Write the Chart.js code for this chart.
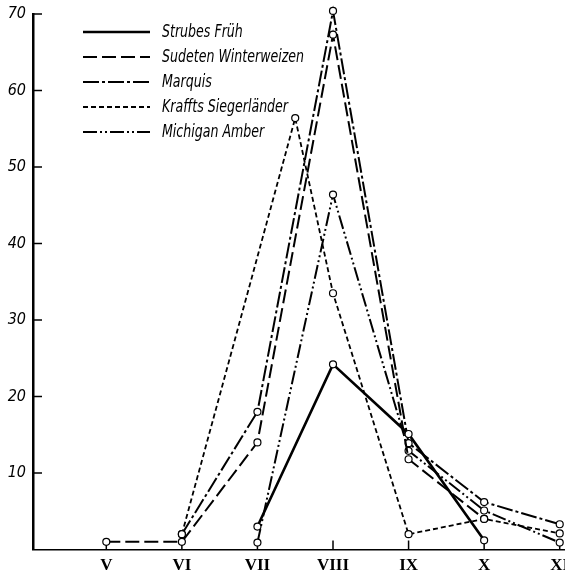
<!DOCTYPE html>
<html><head><meta charset="utf-8">
<script src="https://cdn.jsdelivr.net/npm/chart.js@4/dist/chart.umd.min.js"></script>
<style>html,body{margin:0;padding:0;background:#fff;} #wrap{width:565px;height:572px;position:relative;}</style>
</head><body><div id="wrap"><canvas id="c" width="565" height="572"></canvas></div>
<script>
// Categories (months) and tick labels
const monthLabels = ['V','VI','VII','VIII','IX','X','XI'];
const monthNumbers = [5,6,7,8,9,10,11];
const yTickValues = [10,20,30,40,50,60,70];

// Series
const seriesNames = ['Strubes Früh','Sudeten Winterweizen','Marquis','Kraffts Siegerländer','Michigan Amber'];
const strubesMonths = [7,8,9,10];
const strubesValues = [3,24.2,15.1,1.2];
const sudetenMonths = [5,6,7,8,9,10];
const sudetenValues = [1,1,14,67.3,11.8,4];
const marquisMonths = [6,7,8,9,10,11];
const marquisValues = [2,18,70.4,13.9,6.2,3.3];
const krafftsMonths = [6,7.5,8,9,10,11];
const krafftsValues = [2,56.4,33.5,2,4,2.1];
const michiganMonths = [7,8,9,10,11];
const michiganValues = [0.9,46.4,12.9,5.1,0.9];

const pairs = (xs, ys) => xs.map((x,i)=>({x, y: ys[i]}));

const FONT_NARROW = "'DejaVu Sans Condensed', 'Liberation Sans Narrow', sans-serif";

function ds(label, data, dash, width){
  return {
    label, data,
    borderColor:'#000', backgroundColor:'#fff',
    borderWidth: width, borderDash: dash,
    pointRadius: 3.5, pointBackgroundColor:'#fff', pointBorderColor:'#000', pointBorderWidth:1.2,
    tension: 0, fill:false, clip:false
  };
}

const datasets = [
  ds(seriesNames[0], pairs(strubesMonths, strubesValues), [], 2.6),
  ds(seriesNames[1], pairs(sudetenMonths, sudetenValues), [14,5], 2),
  ds(seriesNames[2], pairs(marquisMonths, marquisValues), [16,3,3,3], 2),
  ds(seriesNames[3], pairs(krafftsMonths, krafftsValues), [5,3], 1.8),
  ds(seriesNames[4], pairs(michiganMonths, michiganValues), [14,3,2,3,2,3], 2)
];

const innerTicks = {
  id:'innerTicks',
  beforeDatasetsDraw(chart){
    const ctx=chart.ctx, xs=chart.scales.x, ys=chart.scales.y, a=chart.chartArea;
    ctx.save(); ctx.strokeStyle='#000'; ctx.lineWidth=1.5; ctx.setLineDash([]);
    ys.ticks.forEach(t=>{const y=ys.getPixelForValue(t.value); ctx.beginPath(); ctx.moveTo(a.left,y); ctx.lineTo(a.left+9,y); ctx.stroke();});
    xs.ticks.forEach(t=>{const x=xs.getPixelForValue(t.value); ctx.beginPath(); ctx.moveTo(x,a.bottom); ctx.lineTo(x,a.bottom-9); ctx.stroke();});
    ctx.restore();
  }
};

const lineLegend = {
  id:'lineLegend',
  afterDraw(chart){
    const ctx=chart.ctx;
    ctx.save();
    ctx.fillStyle='#000'; ctx.strokeStyle='#000';
    chart.data.datasets.forEach((d,i)=>{
      const y = 32 + i*25;
      ctx.beginPath(); ctx.lineWidth=d.borderWidth; ctx.setLineDash(d.borderDash||[]);
      ctx.moveTo(83,y); ctx.lineTo(150,y); ctx.stroke();
      ctx.setLineDash([]);
      ctx.save();
      ctx.translate(162, y);
      ctx.scale(0.8, 1);
      ctx.font = "italic 17.5px " + FONT_NARROW;
      ctx.textBaseline='middle'; ctx.textAlign='left';
      ctx.fillText(d.label, 0, 0);
      ctx.restore();
    });
    ctx.restore();
  }
};

new Chart(document.getElementById('c'), {
  type:'line',
  data:{ datasets },
  options:{
    responsive:false, animation:false, devicePixelRatio:1,
    layout:{ autoPadding:false, padding:{ top:14, right:0, bottom:0, left:0 } },
    plugins:{ legend:{display:false}, tooltip:{enabled:false} },
    scales:{
      x:{
        type:'linear', min:4.03, max:11.07,
        afterBuildTicks: s => { s.ticks = monthNumbers.map(v=>({value:v})); },
        afterFit: s => { s.height = 22.5; s.paddingLeft = 0; s.paddingRight = 0; },
        grid:{ drawOnChartArea:false, drawTicks:false },
        border:{ color:'#000', width:1.6 },
        ticks:{ autoSkip:false, maxRotation:0, padding:6, color:'#000',
          font:{ family:"'Liberation Serif', serif", size:17, weight:'bold' },
          callback: v => monthLabels[monthNumbers.indexOf(v)] }
      },
      y:{
        type:'linear', min:0, max:70,
        afterBuildTicks: s => { s.ticks = yTickValues.map(v=>({value:v})); },
        afterFit: s => { s.width = 33; s.paddingTop = 0; s.paddingBottom = 0; },
        grid:{ drawOnChartArea:false, drawTicks:false },
        border:{ color:'#000', width:2.5 },
        ticks:{ padding:7, color:'#000', font:{ family:FONT_NARROW, size:16, style:'italic' } }
      }
    }
  },
  plugins:[innerTicks, lineLegend]
});
</script>
</body></html>
